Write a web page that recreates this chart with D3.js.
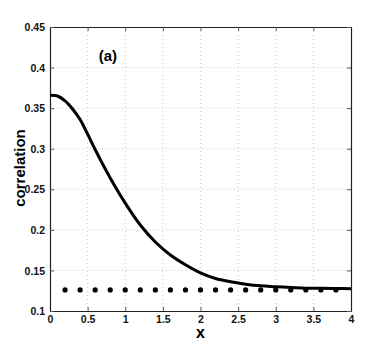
<!DOCTYPE html>
<html>
<head>
<meta charset="utf-8">
<script src="https://cdn.jsdelivr.net/npm/d3@7"></script>
<style>
  body { margin: 0; background: #fff; }
  svg text { font-family: "Liberation Sans", Arial, sans-serif; font-weight: bold; }
</style>
</head>
<body>
<div id="chart"></div>
<script>
// curve (solid line)
var curveX = [0, 0.1, 0.2, 0.3, 0.4, 0.5, 0.6, 0.7, 0.8, 1.0, 1.2, 1.4, 1.6, 1.8, 2.0, 2.2, 2.4, 2.6, 2.8, 3.0, 3.2, 3.4, 3.6, 3.8, 4.0];
var curveY = [0.366, 0.365, 0.359, 0.349, 0.336, 0.318, 0.299, 0.281, 0.264, 0.233, 0.206, 0.185, 0.169, 0.157, 0.147, 0.140, 0.136, 0.133, 0.131, 0.130, 0.129, 0.128, 0.128, 0.1277, 0.1275];

// dotted baseline
var dotX = [0.2, 0.4, 0.6, 0.8, 1.0, 1.2, 1.4, 1.6, 1.8, 2.0, 2.2, 2.4, 2.6, 2.8, 3.0, 3.2, 3.4, 3.6, 3.8];
var dotY = [0.126, 0.126, 0.126, 0.126, 0.126, 0.126, 0.126, 0.126, 0.126, 0.126, 0.126, 0.126, 0.126, 0.126, 0.126, 0.126, 0.126, 0.126, 0.126];

var xTicks = [0, 0.5, 1, 1.5, 2, 2.5, 3, 3.5, 4];
var yTicks = [0.1, 0.15, 0.2, 0.25, 0.3, 0.35, 0.4, 0.45];

var width = 388, height = 350;
var margin = {top: 27, right: 37, bottom: 39, left: 50};
var w = width - margin.left - margin.right,
    h = height - margin.top - margin.bottom;

var svg = d3.select("#chart").append("svg")
    .attr("width", width)
    .attr("height", height);

var g = svg.append("g")
    .attr("transform", "translate(" + margin.left + "," + margin.top + ")");

var x = d3.scaleLinear().domain([0, 4]).range([0, w]);
var y = d3.scaleLinear().domain([0.1, 0.45]).range([h, 0]);

/* grid */
g.append("g").selectAll("line.vx")
    .data(xTicks.slice(1, -1))
    .enter().append("line")
    .attr("x1", function(d) { return x(d); })
    .attr("x2", function(d) { return x(d); })
    .attr("y1", 0).attr("y2", h)
    .style("stroke", "#c8c8c8")
    .style("stroke-dasharray", "1,3");

g.append("g").selectAll("line.hy")
    .data(yTicks.slice(1, -1))
    .enter().append("line")
    .attr("x1", 0).attr("x2", w)
    .attr("y1", function(d) { return y(d); })
    .attr("y2", function(d) { return y(d); })
    .style("stroke", "#c8c8c8")
    .style("stroke-dasharray", "1,3");

/* axes, ticks point inward */
var fmt = function(d) { return String(d); };

var xBottom = g.append("g")
    .attr("transform", "translate(0," + h + ")")
    .call(d3.axisBottom(x).tickValues(xTicks).tickFormat(fmt).tickSizeInner(-4).tickSizeOuter(0).tickPadding(5));
var xTop = g.append("g")
    .call(d3.axisTop(x).tickValues(xTicks).tickFormat("").tickSizeInner(-4).tickSizeOuter(0));
var yLeft = g.append("g")
    .call(d3.axisLeft(y).tickValues(yTicks).tickFormat(fmt).tickSizeInner(-4).tickSizeOuter(0).tickPadding(5));
var yRight = g.append("g")
    .attr("transform", "translate(" + w + ",0)")
    .call(d3.axisRight(y).tickValues(yTicks).tickFormat("").tickSizeInner(-4).tickSizeOuter(0));

[xBottom, xTop, yLeft, yRight].forEach(function(a) {
    a.selectAll("path").style("stroke", "#222").style("stroke-width", 1.2);
    a.selectAll("line").style("stroke", "#555");
    a.selectAll("text").style("font-size", "10.5px").style("fill", "#111");
});
yLeft.selectAll("text").attr("dy", "0.35em");

/* curve */
var line = d3.line()
    .x(function(d, i) { return x(curveX[i]); })
    .y(function(d) { return y(d); })
    .curve(d3.curveCatmullRom);

g.append("path")
    .datum(curveY)
    .attr("d", line)
    .style("fill", "none")
    .style("stroke", "#000")
    .style("stroke-width", 3);

/* dots */
g.selectAll("circle")
    .data(dotY)
    .enter().append("circle")
    .attr("cx", function(d, i) { return x(dotX[i]); })
    .attr("cy", function(d) { return y(d); })
    .attr("r", 2.6)
    .style("fill", "#000");

/* labels */
g.append("text")
    .attr("x", x(0.77))
    .attr("y", y(0.408))
    .attr("text-anchor", "middle")
    .style("font-size", "15px")
    .text("(a)");

svg.append("text")
    .attr("x", margin.left + w / 2)
    .attr("y", 338)
    .attr("text-anchor", "middle")
    .style("font-size", "16px")
    .text("x");

svg.append("text")
    .attr("transform", "translate(25," + 168 + ") rotate(-90)")
    .attr("text-anchor", "middle")
    .style("font-size", "15px")
    .text("correlation");
</script>
</body>
</html>
